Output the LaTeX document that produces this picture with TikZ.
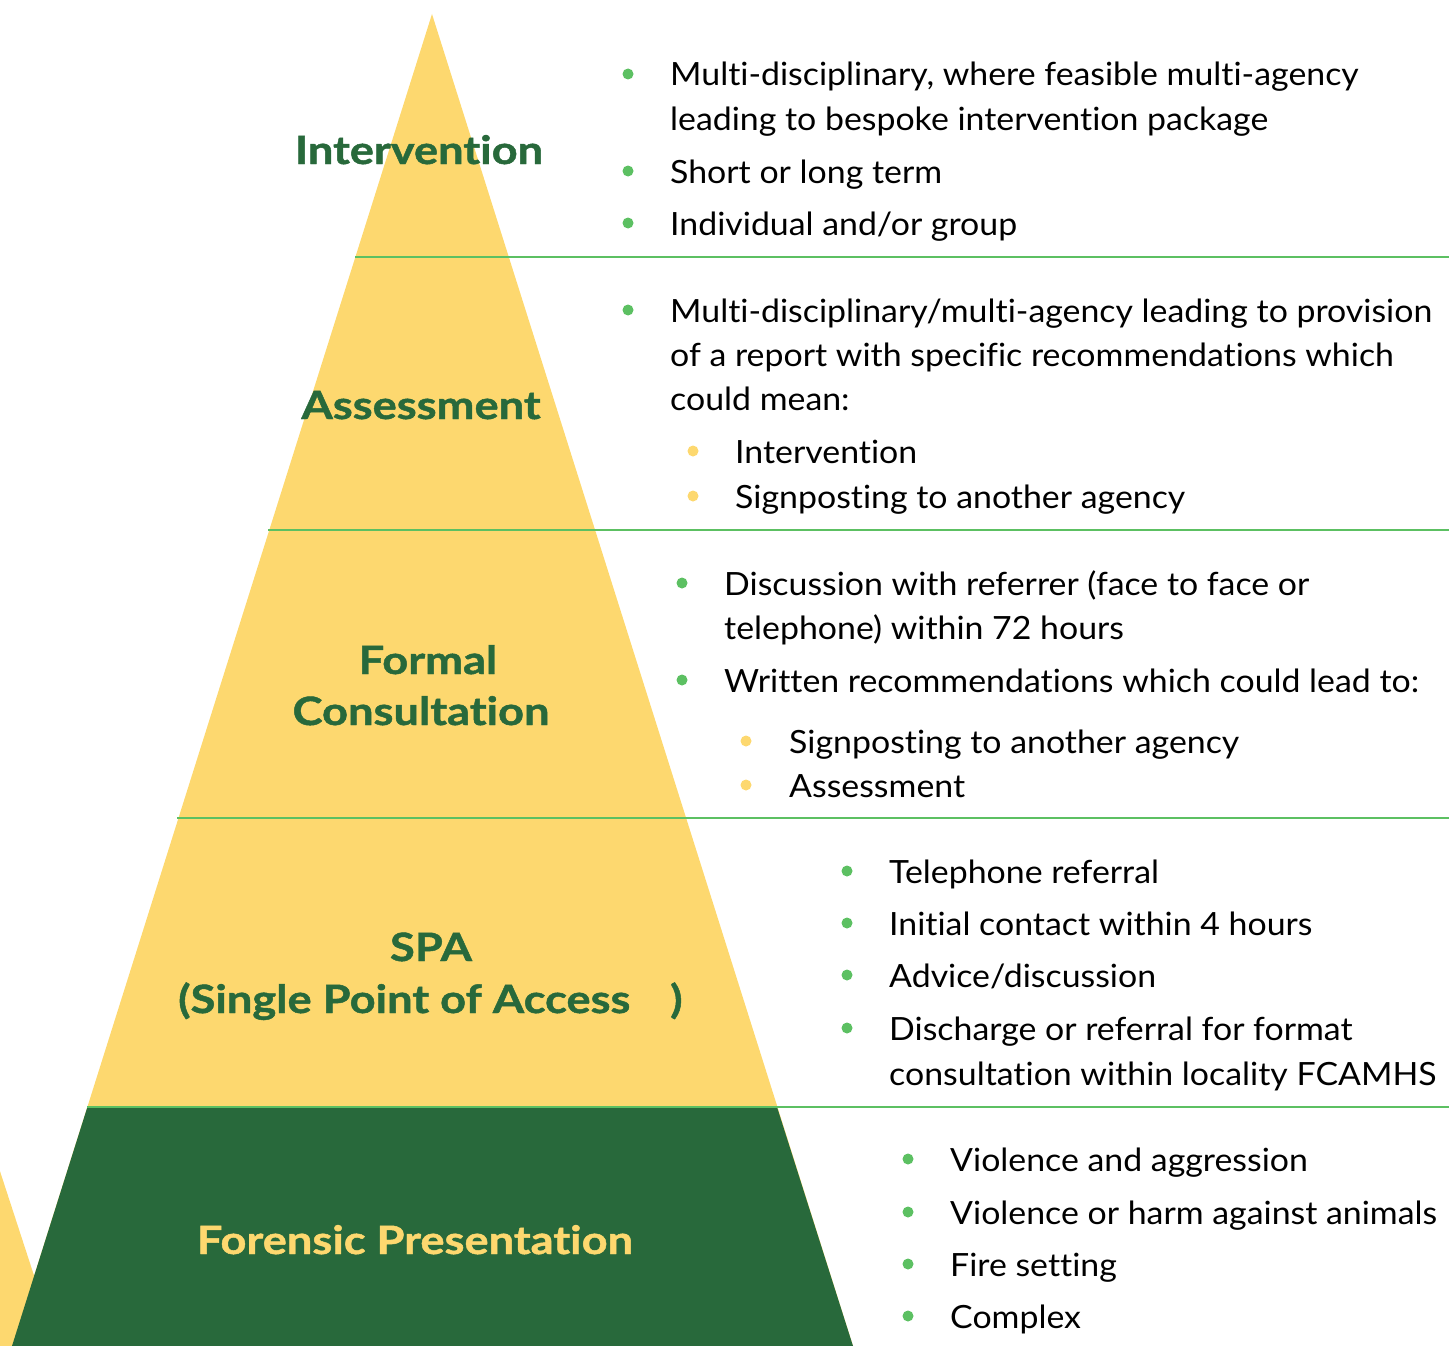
\documentclass[tikz,border=0pt]{standalone}
\usepackage{fontspec}
\setmainfont{Lato}
\newfontfamily\bodyfont[FakeStretch=1.058,Ligatures={NoCommon}]{Lato}
\newfontfamily\titlefont[FakeStretch=1.16,FakeBold=1.2,Ligatures={NoCommon}]{Lato Bold}
\definecolor{pyel}{HTML}{FDD86F}
\definecolor{pdark}{HTML}{28693B}
\definecolor{pline}{HTML}{5CC062}
\begin{document}
\begin{tikzpicture}[x=1pt,y=-1pt,
  txt/.style={anchor=base west,inner sep=0pt,font=\bodyfont\fontsize{32}{40}\selectfont,text=black},
  ttl/.style={anchor=base,inner sep=0pt,font=\titlefont\fontsize{39}{46}\selectfont,text=pdark},
  gdot/.style={circle,fill=pline,inner sep=0pt,minimum size=11pt},
  ydot/.style={circle,fill=pyel,inner sep=0pt,minimum size=11pt},
  sep/.style={draw=pline,line width=2.5pt}]
\useasboundingbox (0,0) rectangle (1449,1346);
\clip (0,0) rectangle (1449,1346);
% small partial shape bottom-left
\fill[pyel,rounded corners=10pt] (-60,1346) -- (-3,1162) -- (57,1346) -- cycle;
% pyramid
\coordinate (apex) at (432,14);
\coordinate (bl) at (12,1346);
\coordinate (br) at (853,1346);
\fill[pyel] (apex) -- (bl) -- (br) -- cycle;
\coordinate (gl) at (87.4,1107);
\coordinate (gr) at (777,1107);
\fill[pdark] (gl) -- (gr) -- (br) -- (bl) -- cycle;
% separators
\coordinate (s1) at (355,257);   \coordinate (e1) at (1449,257);
\coordinate (s2) at (268,530);   \coordinate (e2) at (1449,530);
\coordinate (s3) at (177,818);   \coordinate (e3) at (1449,818);
\coordinate (s4) at (87.4,1107); \coordinate (e4) at (1449,1107);
\draw[sep] (s1) -- (e1);
\draw[sep] (s2) -- (e2);
\draw[sep] (s3) -- (e3);
\draw[sep] (s4) -- (e4);
% titles
\node[ttl] (t1) at (419,164) {Intervention};
\node[ttl] (t2) at (421,419) {Assessment};
\node[ttl] (t3a) at (428,674) {Formal};
\node[ttl] (t3b) at (421,725) {Consultation};
\node[ttl] (t4a) at (431,961) {SPA};
\node[ttl,anchor=base west] (t4b) at (178,1013) {(Single Point of Access};
\node[ttl,anchor=base west] (t4c) at (670,1013) {)};
\node[ttl,text=pyel] (t5) at (415,1254) {Forensic Presentation};
% section 1
\node[gdot] (b11) at (628,74) {};
\node[txt] (l11) at (670,85) {Multi-disciplinary, where feasible multi-agency};
\node[txt] (l12) at (670,130) {leading to bespoke intervention package};
\node[gdot] (b12) at (628,171) {};
\node[txt] (l13) at (670,183) {Short or long term};
\node[gdot] (b13) at (628,223) {};
\node[txt] (l14) at (670,235) {Individual and/or group};
% section 2
\node[gdot] (b21) at (628,310) {};
\node[txt] (l21) at (670,322) {Multi-disciplinary/multi-agency leading to provision};
\node[txt] (l22) at (670,366) {of a report with specific recommendations which};
\node[txt] (l23) at (670,410) {could mean:};
\node[ydot] (b22) at (693,451) {};
\node[txt] (l24) at (735,463) {Intervention};
\node[ydot] (b23) at (693,496) {};
\node[txt] (l25) at (735,508) {Signposting to another agency};
% section 3
\node[gdot] (b31) at (682,583) {};
\node[txt] (l31) at (724,595) {Discussion with referrer (face to face or};
\node[txt] (l32) at (724,639) {telephone) within 72 hours};
\node[gdot] (b32) at (682,680) {};
\node[txt] (l33) at (724,692) {Written recommendations which could lead to:};
\node[ydot] (b33) at (746,741) {};
\node[txt] (l34) at (789,753) {Signposting to another agency};
\node[ydot] (b34) at (746,785) {};
\node[txt] (l35) at (789,797) {Assessment};
% section 4
\node[gdot] (b41) at (847,871) {};
\node[txt] (l41) at (889,883) {Telephone referral};
\node[gdot] (b42) at (847,923) {};
\node[txt] (l42) at (889,935) {Initial contact within 4 hours};
\node[gdot] (b43) at (847,975) {};
\node[txt] (l43) at (889,987) {Advice/discussion};
\node[gdot] (b44) at (847,1028) {};
\node[txt] (l44) at (889,1040) {Discharge or referral for format};
\node[txt] (l45) at (889,1085) {consultation within locality FCAMHS};
% section 5
\node[gdot] (b51) at (908,1159) {};
\node[txt] (l51) at (950,1171) {Violence and aggression};
\node[gdot] (b52) at (908,1212) {};
\node[txt] (l52) at (950,1224) {Violence or harm against animals};
\node[gdot] (b53) at (908,1264) {};
\node[txt] (l53) at (950,1276) {Fire setting};
\node[gdot] (b54) at (908,1316) {};
\node[txt] (l54) at (950,1328) {Complex};
\end{tikzpicture}
\end{document}
